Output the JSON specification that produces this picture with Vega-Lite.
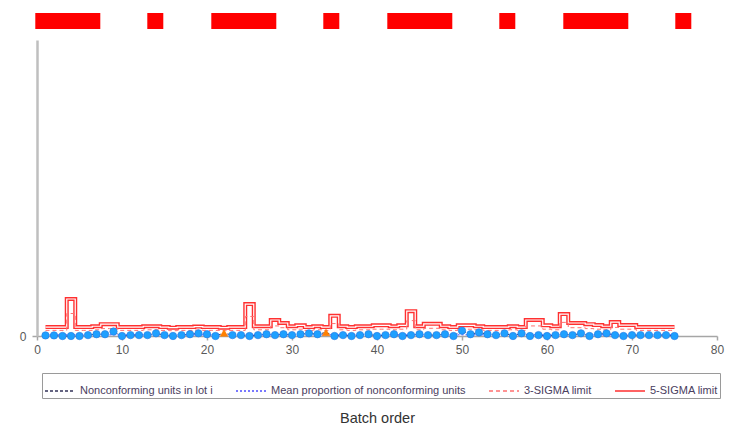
{
  "$schema": "https://vega.github.io/schema/vega-lite/v6.json",
  "width": 680,
  "height": 296,
  "autosize": {"type": "none"},
  "padding": {"left": 37, "top": 40, "right": 24, "bottom": 98},
  "background": "white",
  "config": {
    "view": {"stroke": null},
    "font": "Liberation Sans",
    "axis": {"grid": false, "labelFont": "Liberation Sans", "titleFont": "Liberation Sans"}
  },
  "datasets": {
    "lots": [
      {"lot":1,"p":0.002,"mean":0.004,"u3":0.019,"u5":0.030,"out":0},
      {"lot":2,"p":0.002,"mean":0.004,"u3":0.019,"u5":0.030,"out":0},
      {"lot":3,"p":0.000,"mean":0.004,"u3":0.019,"u5":0.030,"out":0},
      {"lot":4,"p":0.000,"mean":0.004,"u3":0.076,"u5":0.125,"out":0},
      {"lot":5,"p":0.000,"mean":0.004,"u3":0.019,"u5":0.030,"out":0},
      {"lot":6,"p":0.003,"mean":0.004,"u3":0.019,"u5":0.030,"out":0},
      {"lot":7,"p":0.006,"mean":0.004,"u3":0.021,"u5":0.033,"out":0},
      {"lot":8,"p":0.006,"mean":0.004,"u3":0.025,"u5":0.040,"out":0},
      {"lot":9,"p":0.015,"mean":0.004,"u3":0.025,"u5":0.040,"out":0},
      {"lot":10,"p":0.000,"mean":0.004,"u3":0.019,"u5":0.030,"out":0},
      {"lot":11,"p":0.003,"mean":0.004,"u3":0.019,"u5":0.030,"out":0},
      {"lot":12,"p":0.003,"mean":0.004,"u3":0.019,"u5":0.030,"out":0},
      {"lot":13,"p":0.003,"mean":0.004,"u3":0.021,"u5":0.033,"out":0},
      {"lot":14,"p":0.009,"mean":0.004,"u3":0.021,"u5":0.033,"out":0},
      {"lot":15,"p":0.003,"mean":0.004,"u3":0.019,"u5":0.030,"out":0},
      {"lot":16,"p":0.000,"mean":0.004,"u3":0.018,"u5":0.028,"out":0},
      {"lot":17,"p":0.003,"mean":0.004,"u3":0.019,"u5":0.030,"out":0},
      {"lot":18,"p":0.006,"mean":0.004,"u3":0.019,"u5":0.030,"out":0},
      {"lot":19,"p":0.009,"mean":0.004,"u3":0.020,"u5":0.032,"out":0},
      {"lot":20,"p":0.006,"mean":0.004,"u3":0.019,"u5":0.030,"out":0},
      {"lot":21,"p":0.000,"mean":0.004,"u3":0.019,"u5":0.030,"out":0},
      {"lot":22,"p":0.010,"mean":0.004,"u3":0.018,"u5":0.028,"out":1},
      {"lot":23,"p":0.003,"mean":0.004,"u3":0.019,"u5":0.030,"out":0},
      {"lot":24,"p":0.003,"mean":0.004,"u3":0.019,"u5":0.030,"out":0},
      {"lot":25,"p":0.000,"mean":0.004,"u3":0.066,"u5":0.108,"out":0},
      {"lot":26,"p":0.003,"mean":0.004,"u3":0.021,"u5":0.033,"out":0},
      {"lot":27,"p":0.006,"mean":0.004,"u3":0.021,"u5":0.033,"out":0},
      {"lot":28,"p":0.003,"mean":0.004,"u3":0.034,"u5":0.054,"out":0},
      {"lot":29,"p":0.006,"mean":0.004,"u3":0.028,"u5":0.044,"out":0},
      {"lot":30,"p":0.003,"mean":0.004,"u3":0.021,"u5":0.033,"out":0},
      {"lot":31,"p":0.006,"mean":0.004,"u3":0.023,"u5":0.036,"out":0},
      {"lot":32,"p":0.009,"mean":0.004,"u3":0.019,"u5":0.030,"out":0},
      {"lot":33,"p":0.006,"mean":0.004,"u3":0.021,"u5":0.033,"out":0},
      {"lot":34,"p":0.012,"mean":0.004,"u3":0.019,"u5":0.030,"out":1},
      {"lot":35,"p":0.000,"mean":0.004,"u3":0.042,"u5":0.068,"out":0},
      {"lot":36,"p":0.003,"mean":0.004,"u3":0.021,"u5":0.033,"out":0},
      {"lot":37,"p":0.000,"mean":0.004,"u3":0.019,"u5":0.030,"out":0},
      {"lot":38,"p":0.003,"mean":0.004,"u3":0.021,"u5":0.033,"out":0},
      {"lot":39,"p":0.006,"mean":0.004,"u3":0.021,"u5":0.033,"out":0},
      {"lot":40,"p":0.000,"mean":0.004,"u3":0.023,"u5":0.036,"out":0},
      {"lot":41,"p":0.003,"mean":0.004,"u3":0.023,"u5":0.036,"out":0},
      {"lot":42,"p":0.006,"mean":0.004,"u3":0.021,"u5":0.033,"out":0},
      {"lot":43,"p":0.000,"mean":0.004,"u3":0.023,"u5":0.036,"out":0},
      {"lot":44,"p":0.003,"mean":0.004,"u3":0.052,"u5":0.084,"out":0},
      {"lot":45,"p":0.006,"mean":0.004,"u3":0.021,"u5":0.033,"out":0},
      {"lot":46,"p":0.003,"mean":0.004,"u3":0.026,"u5":0.041,"out":0},
      {"lot":47,"p":0.003,"mean":0.004,"u3":0.026,"u5":0.041,"out":0},
      {"lot":48,"p":0.006,"mean":0.004,"u3":0.021,"u5":0.033,"out":0},
      {"lot":49,"p":0.000,"mean":0.004,"u3":0.019,"u5":0.030,"out":0},
      {"lot":50,"p":0.018,"mean":0.004,"u3":0.023,"u5":0.036,"out":0},
      {"lot":51,"p":0.006,"mean":0.004,"u3":0.023,"u5":0.036,"out":0},
      {"lot":52,"p":0.012,"mean":0.004,"u3":0.021,"u5":0.033,"out":0},
      {"lot":53,"p":0.006,"mean":0.004,"u3":0.019,"u5":0.030,"out":0},
      {"lot":54,"p":0.003,"mean":0.004,"u3":0.019,"u5":0.030,"out":0},
      {"lot":55,"p":0.009,"mean":0.004,"u3":0.019,"u5":0.030,"out":0},
      {"lot":56,"p":0.000,"mean":0.004,"u3":0.021,"u5":0.033,"out":0},
      {"lot":57,"p":0.009,"mean":0.004,"u3":0.019,"u5":0.030,"out":0},
      {"lot":58,"p":0.000,"mean":0.004,"u3":0.034,"u5":0.054,"out":0},
      {"lot":59,"p":0.003,"mean":0.004,"u3":0.034,"u5":0.054,"out":0},
      {"lot":60,"p":0.000,"mean":0.004,"u3":0.023,"u5":0.036,"out":0},
      {"lot":61,"p":0.003,"mean":0.004,"u3":0.021,"u5":0.033,"out":0},
      {"lot":62,"p":0.006,"mean":0.004,"u3":0.046,"u5":0.074,"out":0},
      {"lot":63,"p":0.003,"mean":0.004,"u3":0.028,"u5":0.044,"out":0},
      {"lot":64,"p":0.009,"mean":0.004,"u3":0.028,"u5":0.044,"out":0},
      {"lot":65,"p":0.000,"mean":0.004,"u3":0.025,"u5":0.040,"out":0},
      {"lot":66,"p":0.006,"mean":0.004,"u3":0.023,"u5":0.037,"out":0},
      {"lot":67,"p":0.009,"mean":0.004,"u3":0.021,"u5":0.033,"out":0},
      {"lot":68,"p":0.003,"mean":0.004,"u3":0.029,"u5":0.047,"out":0},
      {"lot":69,"p":0.000,"mean":0.004,"u3":0.023,"u5":0.037,"out":0},
      {"lot":70,"p":0.003,"mean":0.004,"u3":0.023,"u5":0.037,"out":0},
      {"lot":71,"p":0.003,"mean":0.004,"u3":0.019,"u5":0.030,"out":0},
      {"lot":72,"p":0.003,"mean":0.004,"u3":0.019,"u5":0.030,"out":0},
      {"lot":73,"p":0.003,"mean":0.004,"u3":0.019,"u5":0.030,"out":0},
      {"lot":74,"p":0.003,"mean":0.004,"u3":0.019,"u5":0.030,"out":0},
      {"lot":75,"p":0.000,"mean":0.004,"u3":0.019,"u5":0.030,"out":0}
    ],
    "band": [
      {"start": -0.2, "end": 77.05, "level": 1.064}
    ]
  },
  "data": {"name": "lots"},
  "encoding": {
    "x": {
      "field": "lot", "type": "quantitative",
      "scale": {"domain": [0, 80], "nice": false, "zero": false},
      "axis": {
        "values": [0, 10, 20, 30, 40, 50, 60, 70, 80],
        "title": "Batch order",
        "titleFontSize": 14.5, "titleFontWeight": "normal", "titleColor": "#333333",
        "titlePadding": 56,
        "labelFontSize": 12, "labelColor": "#595959", "labelPadding": 4, "labelFlush": false,
        "domainColor": "#a6a6a6", "domainWidth": 1.5,
        "tickColor": "#a6a6a6", "tickWidth": 1.5, "tickSize": 4
      }
    }
  },
  "layer": [
    {
      "data": {"name": "band"},
      "mark": {"type": "rule", "color": "#ff0000", "strokeWidth": 16, "strokeDash": [65, 47, 16, 48], "strokeCap": "butt", "clip": false},
      "encoding": {
        "x": {"field": "start", "type": "quantitative"},
        "x2": {"field": "end"},
        "y": {"field": "level", "type": "quantitative"}
      }
    },
    {
      "transform": [{"fold": ["u5"], "as": ["series", "value"]}],
      "mark": {"type": "line", "interpolate": "step", "strokeWidth": 4},
      "encoding": {
        "y": {
          "field": "value", "type": "quantitative",
          "scale": {"domain": [0, 1], "nice": false},
          "axis": {
            "values": [0], "title": null, "format": "d",
            "labelFontSize": 12, "labelColor": "#595959", "labelPadding": 6,
            "domainColor": "#bfbfbf", "domainWidth": 2.5,
            "tickColor": "#a6a6a6", "tickWidth": 1.5, "tickSize": 5
          }
        },
        "color": {"field": "series", "type": "nominal"},
        "strokeDash": {"field": "series", "type": "nominal"}
      }
    },
    {
      "mark": {"type": "line", "interpolate": "step", "color": "#ffffff", "strokeWidth": 1.2},
      "encoding": {"y": {"field": "u5", "type": "quantitative"}}
    },
    {
      "transform": [{"fold": ["u3"], "as": ["series", "value"]}],
      "mark": {"type": "line", "interpolate": "step", "strokeWidth": 1},
      "encoding": {
        "y": {"field": "value", "type": "quantitative"},
        "color": {"field": "series", "type": "nominal"},
        "strokeDash": {"field": "series", "type": "nominal"}
      }
    },
    {
      "transform": [{"fold": ["p", "mean"], "as": ["series", "value"]}],
      "mark": {"type": "line", "strokeWidth": 1},
      "encoding": {
        "y": {"field": "value", "type": "quantitative"},
        "color": {
          "field": "series", "type": "nominal",
          "scale": {"domain": ["p", "mean", "u3", "u5"], "range": ["#33335a", "#4d4dff", "#ff7070", "#ff3030"]},
          "legend": {
            "title": null,
            "orient": "none", "legendX": 5, "legendY": 333,
            "direction": "horizontal", "columns": 4,
            "symbolType": "stroke", "symbolSize": 900, "symbolStrokeWidth": 1.5,
            "labelFont": "Liberation Sans", "labelFontSize": 11, "labelColor": "#4a4060",
            "labelLimit": 300, "labelOffset": 4, "columnPadding": 20, "rowPadding": 0,
            "strokeColor": "#9a9a9a", "padding": 2,
            "labelExpr": "{'p': 'Nonconforming units in lot i', 'mean': 'Mean proportion of nonconforming units', 'u3': '3-SIGMA limit', 'u5': '5-SIGMA limit'}[datum.label]"
          }
        },
        "strokeDash": {
          "field": "series", "type": "nominal",
          "scale": {"domain": ["p", "mean", "u3", "u5"], "range": [[3, 2], [2, 2], [4, 3], [1, 0]]},
          "legend": null
        }
      }
    },
    {
      "mark": {"type": "point", "filled": true, "size": 55, "opacity": 1, "strokeWidth": 0.6},
      "encoding": {
        "y": {"field": "p", "type": "quantitative"},
        "shape": {"condition": {"test": "datum.out == 1", "value": "triangle-up"}, "value": "circle"},
        "fill": {"condition": {"test": "datum.out == 1", "value": "#ff8000"}, "value": "#1ea0ff"},
        "stroke": {"condition": {"test": "datum.out == 1", "value": "#ff8000"}, "value": "#2a78e0"}
      }
    }
  ],
  "resolve": {"scale": {"color": "shared", "strokeDash": "shared"}}
}
